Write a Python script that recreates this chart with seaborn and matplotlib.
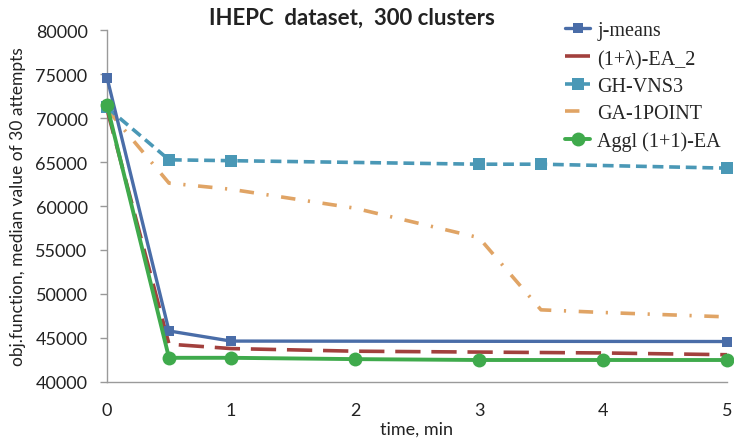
import matplotlib
matplotlib.use("Agg")
import matplotlib.pyplot as plt
import seaborn as sns
import pandas as pd

# ---- data ----
jm_t = [0, 0.5, 1, 5]
jm_v = [74600, 45800, 44650, 44600]

ea2_t = [0, 0.5, 1, 2, 3, 4, 5]
ea2_v = [71000, 44300, 43800, 43500, 43400, 43300, 43100]

gh_t = [0, 0.5, 1, 3, 3.5, 5]
gh_v = [71200, 65250, 65150, 64750, 64750, 64300]

ga_t = [0, 0.5, 1, 2, 3, 3.5, 4, 5]
ga_v = [71000, 62600, 61900, 59750, 56400, 48200, 47900, 47400]

ag_t = [0, 0.5, 1, 2, 3, 4, 5]
ag_v = [71450, 42750, 42750, 42600, 42500, 42500, 42500]

labels = ["j-means", "(1+λ)-EA_2", "GH-VNS3", "GA-1POINT", "Aggl (1+1)-EA"]
title = "IHEPC  dataset,  300 clusters"
xlabel = "time, min"
ylabel = "obj.function, median value of 30 attempts"

sns.set_theme(style="white")
plt.rcParams["font.family"] = ["Lato", "DejaVu Sans"]

fig = plt.figure(figsize=(7.34, 4.39), dpi=100)
ax = fig.add_axes([107/734, 1-383/439, (727-107)/734, (383-31)/439])

series = [
    (jm_t, jm_v, labels[0], dict(color="#4A6DA8", lw=2.4, marker="s", ms=7, dashes=None, z=4)),
    (ea2_t, ea2_v, labels[1], dict(color="#A2403D", lw=2.6, marker=None, dashes=(7, 3), z=3)),
    (gh_t, gh_v, labels[2], dict(color="#4A98B6", lw=2.6, marker="s", ms=8, dashes=(3, 1.6), z=3)),
    (ga_t, ga_v, labels[3], dict(color="#E0A465", lw=2.6, marker=None, dashes=(4, 3.5, 0.6, 3.5), z=2)),
    (ag_t, ag_v, labels[4], dict(color="#3FAA4C", lw=2.8, marker="o", ms=10, dashes=None, z=5)),
]

for t, v, lab, st in series:
    df = pd.DataFrame({"t": t, "v": v})
    kw = dict(color=st["color"], linewidth=st["lw"], label=lab, clip_on=False)
    if st.get("marker"):
        kw.update(marker=st["marker"], markersize=st["ms"], markeredgewidth=0)
    sns.lineplot(data=df, x="t", y="v", ax=ax, **kw)
    l = ax.lines[-1]
    if st.get("dashes"):
        l.set_dashes(st["dashes"])
    l.set_zorder(st["z"])

ax.set_xlim(0, 5)
ax.set_ylim(40000, 80000)
ax.set_xticks([0, 1, 2, 3, 4, 5])
ax.set_yticks(range(40000, 80001, 5000))
ax.tick_params(axis="y", which="major", left=True, direction="out", length=5, width=1,
               color="#999999", pad=9, labelsize=13, labelcolor="#222222")
ax.tick_params(axis="x", which="major", bottom=False, pad=8.5, labelsize=13, labelcolor="#222222")
for s in ["top", "right"]:
    ax.spines[s].set_visible(False)
for s in ["left", "bottom"]:
    ax.spines[s].set_color("#9a9a9a")
    ax.spines[s].set_linewidth(1.0)
ax.set_xlabel(xlabel, fontsize=13, color="#222222", labelpad=2)
ax.set_ylabel(ylabel, fontsize=12.5, color="#222222", labelpad=7)
if ax.legend_:
    ax.legend_.remove()

fig.text(352/734, 1-18/439, title, ha="center", va="center", fontsize=16,
         fontweight="bold", color="#222222")

handles, labs = ax.get_legend_handles_labels()
fig.legend(handles, labs, loc="upper left", bbox_to_anchor=(565/734, 1-22/439),
           frameon=False, prop={"family": "Liberation Serif", "size": 14.5},
           handlelength=1.25, handletextpad=0.35, labelspacing=0.42, borderpad=0,
           borderaxespad=0)

fig.savefig("out.png", dpi=100, facecolor="white")
